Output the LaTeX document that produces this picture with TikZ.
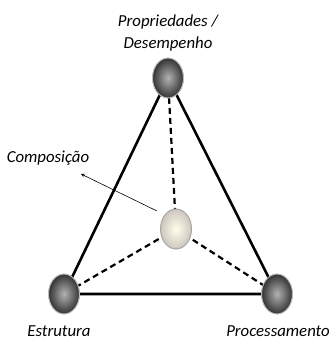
\documentclass[tikz,border=0pt]{standalone}
\usepackage{fontspec}
\setmainfont{Carlito}
\usetikzlibrary{shapes.geometric}
\begin{document}
\begin{tikzpicture}[x=1pt,y=-1pt,
  ball/.style={ellipse,minimum width=31pt,minimum height=40pt,inner sep=0pt,draw=gray!55,line width=1pt,inner color=gray!60,outer color=black!80},
  cball/.style={ellipse,minimum width=31pt,minimum height=40pt,inner sep=0pt,draw=gray!70,line width=1pt,inner color=yellow!8,outer color=brown!25!gray!45},
  lab/.style={font=\itshape\fontsize{16.8}{21.5}\selectfont,inner sep=0pt,align=center},
  solidln/.style={line width=2.6pt},
  dashln/.style={line width=2.2pt,dash pattern=on 6pt off 4pt}]
\useasboundingbox (0,0) rectangle (331,342);
\coordinate (T) at (168,78);
\coordinate (L) at (64,294);
\coordinate (R) at (277,294);
\coordinate (C) at (176,229);
\draw[solidln] (T) -- (L) -- (R) -- cycle;
\draw[dashln] (T) -- (C);
\draw[dashln] (C) -- (L);
\draw[dashln] (C) -- (R);
\node[ball] (t) at (T) {};
\node[ball] (l) at (L) {};
\node[ball] (r) at (R) {};
\node[cball] (c) at (C) {};
\node[lab] (tp) at (168,33) {Propriedades /\\Desempenho};
\node[lab] (cp) at (48,158) {Composição};
\node[lab] (ep) at (59,331) {Estrutura};
\node[lab] (pp) at (278,331) {Processamento};
\coordinate (a1) at (157,211);
\coordinate (a2) at (81,174);
\draw[-stealth,line width=0.6pt] (a1) -- (a2);
\end{tikzpicture}
\end{document}
